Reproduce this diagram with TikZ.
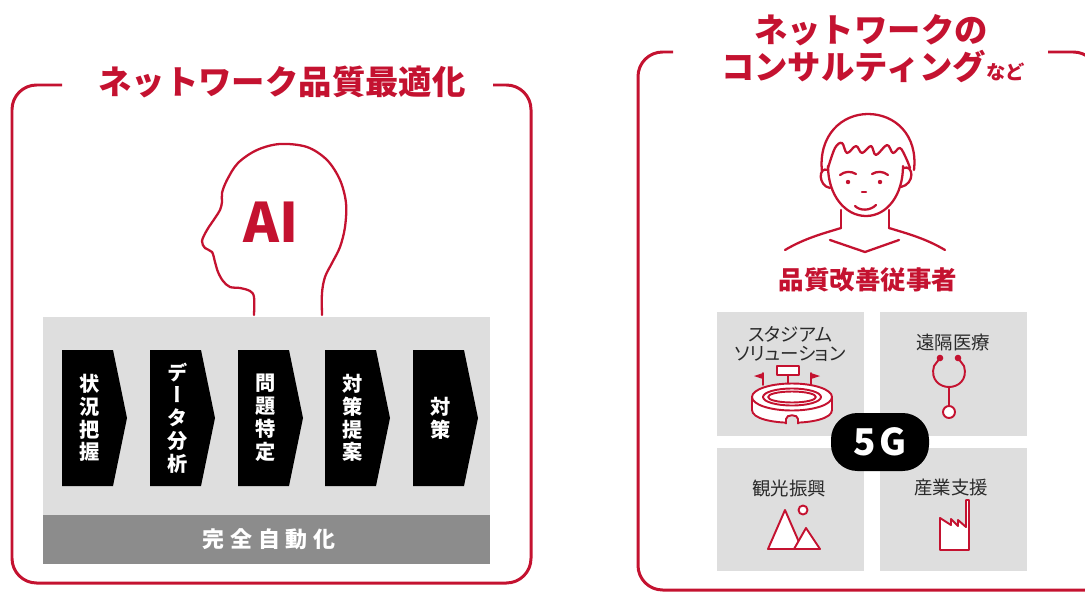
\documentclass[tikz,border=0pt]{standalone}
\usepackage{fontspec}
\setmainfont{Noto Sans CJK JP}
\newfontfamily\paltfont[RawFeature=+palt]{Noto Sans CJK JP}
\newfontfamily\vertfont[RawFeature=+vert]{Noto Sans CJK JP}
\usetikzlibrary{calc}

\definecolor{nred}{HTML}{C41230}
\definecolor{boxgray}{HTML}{DEDEDE}
\definecolor{bargray}{HTML}{8C8C8C}
\definecolor{txtgray}{HTML}{2A2A2A}
\newcommand{\fsz}[2]{\fontsize{#1}{#2}\selectfont}

\begin{document}
\begin{tikzpicture}[x=0.02cm,y=-0.02cm,
        frame/.style={draw=nred,line width=1.7pt,rounded corners=14pt},
        outline/.style={draw=nred,line width=1.3pt,line join=round,line cap=round},
        icon/.style={draw=nred,line width=1.1pt,fill=white,line join=round},
        title/.style={text=nred,font=\bfseries\fsz{19}{22},inner sep=0pt},
        ctext/.style={text=white,align=center,inner sep=0pt,font=\vertfont\bfseries\fsz{11.5}{13}},
        ltext/.style={text=txtgray,align=center,inner sep=0pt,font=\paltfont\fsz{10.5}{10.5}}]
    \useasboundingbox (0,0) rectangle (1085,592);
    \begin{scope}
        \clip (0,0) rectangle (1085,592);

        % left panel
        \draw[frame] (62,85) -- (12,85) -- (12,583) -- (531,583) -- (531,85) -- (493,85);
        \node[title] (t1) at (282,82) {ネットワーク品質最適化};

        \draw[outline] plot[smooth,tension=0.55] coordinates {(254,315) (254,297) (250,291)
            (240,288) (230,287) (223,281) (218,272) (215,262) (212,252) (205,248) (202,241)
            (207,230) (215,218) (220,210) (222,202) (222,193) (227,180) (238,163) (257,150)
            (280,144) (307,147) (327,160) (340,180) (346,203) (345,227) (340,247) (332,263)
            (325,277) (322,293) (322,315)};
        \node[text=nred,font=\bfseries\fsz{31}{31},inner sep=0pt] (ai) at (271,222) {AI};

        \fill[boxgray] (43,317) rectangle (490,515);
        \fill[bargray] (43,515) rectangle (490,564);
        \node[text=white,font=\bfseries\addfontfeature{LetterSpace=27}\fsz{12.5}{14},inner sep=0pt]
            (auto) at (269,539) {完全自動化};

        \foreach \x/\t [count=\i] in {62/{状\\況\\把\\握},150/{デ\\ー\\タ\\分\\析},
                238/{問\\題\\特\\定},325/{対\\策\\提\\案},413/{対\\策}}{
            \fill (\x,350) -- ++(51,0) -- ++(14,68) -- ++(-14,68) -- ++(-51,0) -- cycle;
            \node[ctext] (c\i) at (\x+28,418) {\t};
        }

        % right panel
        \draw[frame] (673,52) -- (638,52) -- (638,590) -- (1110,590);
        \draw[frame] (1048,52) -- (1098,52) -- (1098,620);
        \node[title] (t2) at (871,30) {ネットワークの};
        \node[title] (t3) at (873,67) {コンサルティング{\fsz{11}{13}など}};

        \draw[outline] (822,172) .. controls (818,135) and (842,114) .. (868,114)
            .. controls (895,114) and (918,135) .. (914,170);
        \draw[outline] (828,170) .. controls (818,166) and (818,186) .. (830,188);
        \draw[outline] (903,168) .. controls (914,164) and (915,184) .. (901,187);
        \draw[outline] (828,166) .. controls (828,195) and (845,216) .. (866,216)
            .. controls (887,216) and (903,195) .. (903,166);
        \draw[outline] plot[smooth,tension=0.6] coordinates {(828,168) (835,148) (842,143)
            (847,153) (856,146) (862,153) (871,146) (876,155) (887,145) (893,153) (900,148)
            (906,158) (910,168)};
        \draw[outline] (840,175) .. controls (845,171) and (851,171) .. (856,174);
        \draw[outline] (872,174) .. controls (877,171) and (883,171) .. (888,175);
        \fill[nred] (848,182) circle (2.2) (880,182) circle (2.2);
        \draw[outline] (862,192) -- (866,192);
        \draw[outline] (855,206) .. controls (860,211) and (870,211) .. (876,205);
        \draw[outline] (841,210) -- (841,228) (889,210) -- (889,228);
        \draw[outline] (785,250) .. controls (805,238) and (825,233) .. (841,228);
        \draw[outline] (889,228) .. controls (905,233) and (925,238) .. (945,250);
        \draw[outline] (830,240) -- (865,252) -- (899,240);
        \node[text=nred,font=\bfseries\fsz{14.5}{16},inner sep=0pt] (who) at (868,280) {品質改善従事者};

        \fill[boxgray] (717,312) rectangle (864,436);
        \fill[boxgray] (880,312) rectangle (1027,436);
        \fill[boxgray] (717,448) rectangle (864,571);
        \fill[boxgray] (880,448) rectangle (1027,571);
        \node[ltext] (s1) at (790,344) {スタジアム\\ソリューション};
        \node[ltext] (s2) at (953,342) {遠隔医療};
        \node[ltext] (s3) at (789,488) {観光振興};
        \node[ltext] (s4) at (951,487) {産業支援};

        % stadium
        \draw[icon] (777,366) rectangle (799,375);
        \draw[outline,line width=1.1pt] (788,375) -- (788,383) (763,373) -- (763,385) (811,373) -- (811,385);
        \fill[nred] (763,373) -- (754,376) -- (763,379) -- cycle (811,373) -- (820,376) -- (811,379) -- cycle;
        \draw[icon] (752,397) -- (752,410) .. controls (752,427) and (832,427) .. (832,410) -- (832,397);
        \draw[icon] (792,397) ellipse[x radius=40,y radius=13.5];
        \draw[icon] (792,397) ellipse[x radius=29,y radius=8.5];
        \draw[icon] (792,397) ellipse[x radius=24,y radius=5.5];
        \filldraw[fill=boxgray,draw=nred,line width=1.1pt] (786,424) -- (786,419)
            .. controls (786,414) and (798,414) .. (798,419) -- (798,424);

        % stethoscope
        \draw[outline,line width=1.1pt] (940,358) -- (934,366) .. controls (930,380) and (940,387) .. (949,387)
            .. controls (958,387) and (968,380) .. (964,366) -- (958,358);
        \draw[outline,line width=1.1pt] (949,387) -- (949,406);
        \fill[nred] (940,358) circle (3.3) (958,358) circle (3.3);
        \draw[icon] (949,412) circle (6);

        % mountains
        \draw[icon] (768,549) -- (785,510) -- (802,549) -- cycle;
        \draw[icon] (794,549) -- (806,528) -- (820,549) -- cycle;
        \draw[icon] (803,510) circle (4.5);

        % factory
        \draw[icon] (940,518) -- (951,525) -- (951,519) -- (958,526) -- (958,520) -- (966,527)
            -- (966,500) -- (969,500) -- (969,550) -- (940,550) -- cycle;

        \fill[black,rounded corners=15pt] (831,413) rectangle (929,471);
        \node[text=white,font=\bfseries\addfontfeature{LetterSpace=8}\fsz{21}{21},inner sep=0pt]
            (fiveg) at (880,442) {5G};
    \end{scope}
\end{tikzpicture}
\end{document}
